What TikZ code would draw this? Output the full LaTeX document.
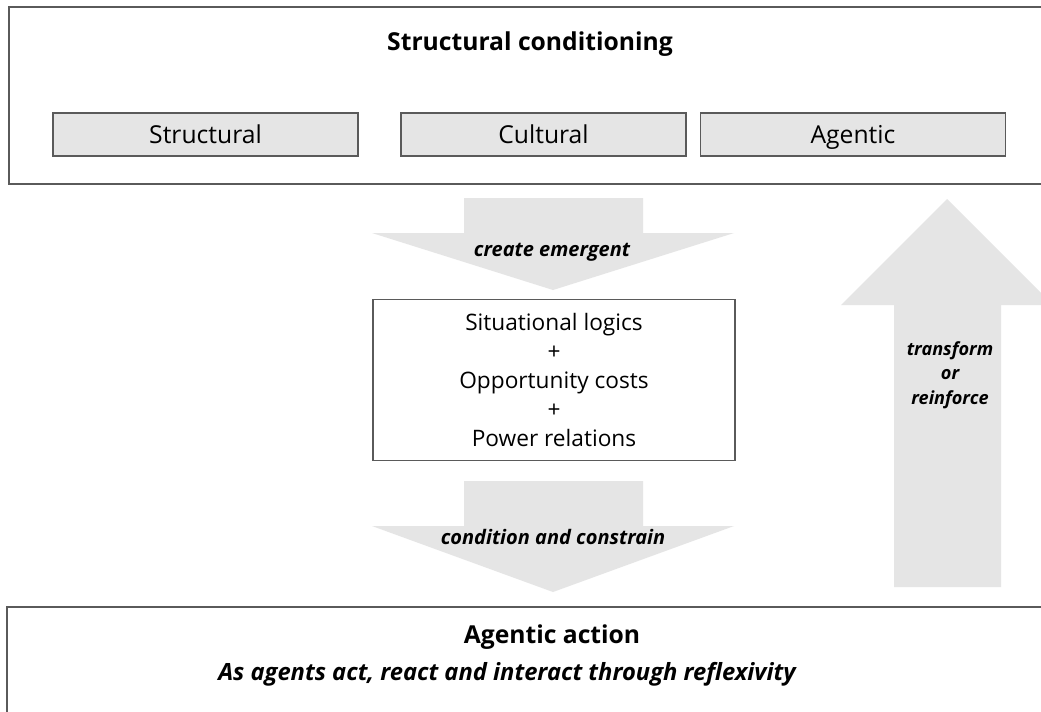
\documentclass[tikz,border=0pt]{standalone}
\usepackage{fontspec}
\setmainfont{Open Sans}
\usetikzlibrary{positioning}

\definecolor{boxgray}{HTML}{E5E5E5}
\definecolor{linegray}{HTML}{5A5A5A}

\tikzset{
  frame/.style={draw=linegray, line width=1.6},
  factor/.style={draw=linegray, line width=1.2, fill=boxgray, minimum width=228.75pt, minimum height=32.25pt, inner sep=0,
    text height=13.2pt, text depth=0pt, font=\fontsize{18.5}{21}\selectfont},
  bigarrow/.style={fill=boxgray, draw=none},
  verb/.style={font=\fontsize{15}{18}\selectfont\bfseries\itshape, align=center},
  heading/.style={font=\fontsize{18.5}{22}\selectfont\bfseries}
}

\begin{document}
\begin{tikzpicture}[x=0.75pt, y=-0.75pt]
  \useasboundingbox (0,0) rectangle (1041,711);
  \clip (0,0) rectangle (1041,711);
  \fill[white] (0,0) rectangle (1041,711);

  % outer frames
  \draw[frame] (9,7) rectangle (1070,184);
  \draw[frame] (7,607) rectangle (1070,740);

  % big arrows
  \fill[bigarrow] (464,198) -- (643,198) -- (643,233) -- (734,233) -- (553,290) -- (372,233) -- (464,233) -- cycle;
  \fill[bigarrow] (464,481) -- (643,481) -- (643,526) -- (734,526) -- (553,592) -- (372,526) -- (464,526) -- cycle;
  \fill[bigarrow] (894,587) -- (894,305) -- (841,305) -- (947,199) -- (1053,305) -- (1001,305) -- (1001,587) -- cycle;

  % top block
  \node[heading] (cond) at (530,44) {Structural conditioning};
  \node[factor] (struct) at (205.5,134.5) {Structural};
  \node[factor, minimum width=213.75pt] (cult) at (543.5,134.5) {Cultural};
  \node[factor] (agen) at (853,134.5) {Agentic};

  % middle box
  \node[draw=linegray, line width=1.2, minimum width=271.5pt, minimum height=120.75pt, align=center,
        font=\fontsize{17}{21.75}\selectfont] (logics) at (554,380)
        {Situational logics\\+\\Opportunity costs\\+\\Power relations};

  % arrow labels
  \node[verb] (emerge) at (552,252) {create emergent};
  \node[verb] (constrain) at (553,537) {condition and constrain};
  \node[verb, font=\fontsize{13.6}{18.5}\selectfont\bfseries\itshape] (transform) at (950,375) {transform\\or\\reinforce};

  % bottom block
  \node[heading] (action) at (552,637) {Agentic action};
  \node[verb, font=\fontsize{17.8}{20}\selectfont\bfseries\itshape] (reflex) at (507,674) {As agents act, react and interact through reflexivity};
\end{tikzpicture}
\end{document}
